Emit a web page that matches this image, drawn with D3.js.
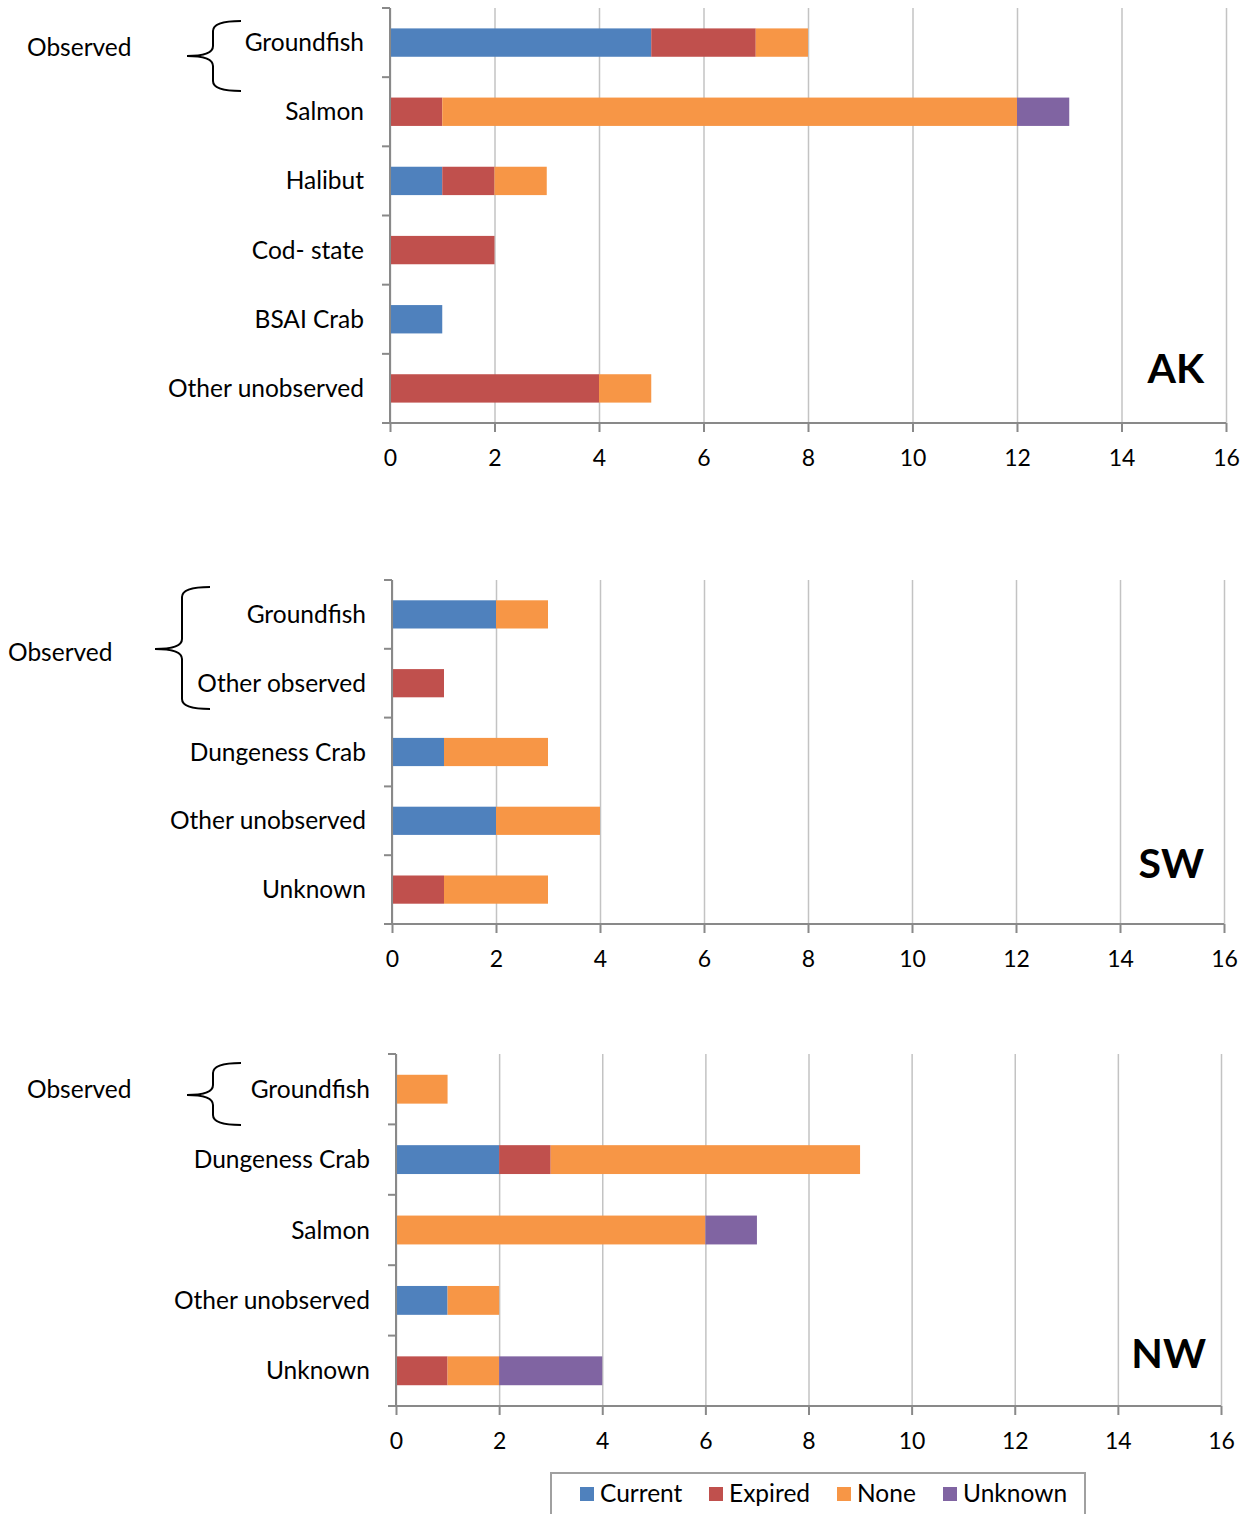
<!DOCTYPE html>
<html>
<head>
<meta charset="utf-8">
<script src="https://cdn.jsdelivr.net/npm/d3@7"></script>
<style>
  body { margin: 0; background: #fff; }
  svg { display: block; }
  text { font-family: Lato, "Noto Sans", sans-serif; fill: #000; }
</style>
</head>
<body>
<svg id="chart" width="1246" height="1514"></svg>
<script>
// Permit status series shared by all three regions
const seriesNames = ["Current", "Expired", "None", "Unknown"];
const seriesColors = ["#4F81BD", "#C0504D", "#F79646", "#8064A2"];
const xTickValues = [0, 2, 4, 6, 8, 10, 12, 14, 16];

// AK region
const akCategories = ["Groundfish", "Salmon", "Halibut", "Cod- state", "BSAI Crab", "Other unobserved"];
const akCurrent = [5, 0, 1, 0, 1, 0];
const akExpired = [2, 1, 1, 2, 0, 4];
const akNone    = [1, 11, 1, 0, 0, 1];
const akUnknown = [0, 1, 0, 0, 0, 0];

// SW region
const swCategories = ["Groundfish", "Other observed", "Dungeness Crab", "Other unobserved", "Unknown"];
const swCurrent = [2, 0, 1, 2, 0];
const swExpired = [0, 1, 0, 0, 1];
const swNone    = [1, 0, 2, 2, 2];
const swUnknown = [0, 0, 0, 0, 0];

// NW region
const nwCategories = ["Groundfish", "Dungeness Crab", "Salmon", "Other unobserved", "Unknown"];
const nwCurrent = [0, 2, 0, 1, 0];
const nwExpired = [0, 1, 0, 0, 1];
const nwNone    = [1, 6, 6, 1, 1];
const nwUnknown = [0, 0, 1, 0, 2];

const observedLabel = "Observed";

// Panel geometry (pixels)
const panels = [
  { title: "AK", cats: akCategories, series: [akCurrent, akExpired, akNone, akUnknown],
    x0: 390, x1: 1226, top: 8, bottom: 423, titleX: 1204, titleY: 383,
    obsX: 27, obsY: 56, brace: { tipX: 187, vX: 213, endX: 241, y0: 21, yMid: 56, y1: 91 } },
  { title: "SW", cats: swCategories, series: [swCurrent, swExpired, swNone, swUnknown],
    x0: 392, x1: 1224, top: 580, bottom: 924, titleX: 1204, titleY: 878,
    obsX: 8, obsY: 661, brace: { tipX: 155, vX: 182, endX: 210, y0: 587, yMid: 649, y1: 709 } },
  { title: "NW", cats: nwCategories, series: [nwCurrent, nwExpired, nwNone, nwUnknown],
    x0: 396, x1: 1221, top: 1054, bottom: 1406, titleX: 1206, titleY: 1368,
    obsX: 27, obsY: 1098, brace: { tipX: 187, vX: 213, endX: 241, y0: 1063, yMid: 1095, y1: 1125 } }
];

const svg = d3.select("#chart");
const labelSize = 24.5;
const tickSize = 23;
const axisColor = "#898989";
const gridColor = "#c3c3c3";

function bracePath(b) {
  const r = 10;
  return `M${b.endX},${b.y0} Q${b.vX},${b.y0} ${b.vX},${b.y0 + r} L${b.vX},${b.yMid - r} ` +
         `Q${b.vX},${b.yMid} ${b.tipX},${b.yMid} Q${b.vX},${b.yMid} ${b.vX},${b.yMid + r} ` +
         `L${b.vX},${b.y1 - r} Q${b.vX},${b.y1} ${b.endX},${b.y1}`;
}

panels.forEach(p => {
  const g = svg.append("g");
  const x = d3.scaleLinear().domain([0, 16]).range([p.x0, p.x1]);
  const y = d3.scaleBand().domain(p.cats).range([p.top, p.bottom]).paddingInner(0.59).paddingOuter(0.295);
  const step = (p.bottom - p.top) / p.cats.length;

  // vertical gridlines
  g.append("g")
    .attr("transform", `translate(0,${p.bottom})`)
    .call(d3.axisBottom(x).tickValues(xTickValues).tickSize(-(p.bottom - p.top)).tickFormat(""))
    .call(a => a.select(".domain").remove())
    .call(a => a.selectAll("line").attr("stroke", gridColor).attr("stroke-width", 1.5));

  // stacked bars
  const rows = p.cats.map((c, i) => {
    const r = { cat: c };
    seriesNames.forEach((s, k) => r[s] = p.series[k][i]);
    return r;
  });
  const stacked = d3.stack().keys(seriesNames)(rows);
  g.append("g").selectAll("g").data(stacked).join("g")
    .attr("fill", (d, i) => seriesColors[i])
    .selectAll("rect").data(d => d.filter(v => v[1] > v[0])).join("rect")
    .attr("x", d => x(d[0]))
    .attr("width", d => x(d[1]) - x(d[0]))
    .attr("y", d => y(d.data.cat))
    .attr("height", y.bandwidth());

  // x axis
  const xa = g.append("g")
    .attr("transform", `translate(0,${p.bottom})`)
    .call(d3.axisBottom(x).tickValues(xTickValues).tickSize(9).tickPadding(18).tickSizeOuter(0));
  xa.select(".domain").attr("stroke", axisColor).attr("stroke-width", 2)
    .attr("d", `M${p.x0 - 8},0H${p.x1}`);
  xa.selectAll(".tick line").attr("stroke", axisColor).attr("stroke-width", 2);
  xa.selectAll(".tick text").attr("font-size", tickSize).attr("font-family", "Lato, 'Noto Sans', sans-serif")
    .attr("fill", "#000").attr("dy", "0.71em");

  // y axis with ticks at category boundaries
  const ya = g.append("g");
  ya.append("line").attr("x1", p.x0).attr("x2", p.x0).attr("y1", p.top).attr("y2", p.bottom)
    .attr("stroke", axisColor).attr("stroke-width", 2);
  ya.selectAll(".bnd").data(d3.range(p.cats.length + 1)).join("line")
    .attr("x1", p.x0 - 8).attr("x2", p.x0)
    .attr("y1", i => p.top + i * step).attr("y2", i => p.top + i * step)
    .attr("stroke", axisColor).attr("stroke-width", 2);
  ya.selectAll(".lbl").data(p.cats).join("text")
    .attr("x", p.x0 - 26)
    .attr("y", c => y(c) + y.bandwidth() / 2)
    .attr("dy", "0.35em")
    .attr("text-anchor", "end")
    .attr("font-size", labelSize)
    .text(c => c);

  // region title
  g.append("text").attr("x", p.titleX).attr("y", p.titleY)
    .attr("text-anchor", "end").attr("font-size", 41).attr("font-weight", "bold")
    .text(p.title);

  // brace grouping the observed fisheries
  g.append("path").attr("d", bracePath(p.brace))
    .attr("fill", "none").attr("stroke", "#000").attr("stroke-width", 2);
  g.append("text").attr("x", p.obsX).attr("y", p.obsY)
    .attr("font-size", labelSize).text(observedLabel);
});

// legend
const legend = svg.append("g");
legend.append("rect").attr("x", 551).attr("y", 1473).attr("width", 534).attr("height", 60)
  .attr("fill", "#fff").attr("stroke", "#a0a0a0").attr("stroke-width", 2);
const legendX = [580, 709, 837, 943];
const items = legend.selectAll("g").data(seriesNames).join("g")
  .attr("transform", (d, i) => `translate(${legendX[i]},1487)`);
items.append("rect").attr("width", 14).attr("height", 14).attr("fill", (d, i) => seriesColors[i]);
items.append("text").attr("x", 20).attr("y", 15).attr("font-size", labelSize).text(d => d);
</script>
</body>
</html>
